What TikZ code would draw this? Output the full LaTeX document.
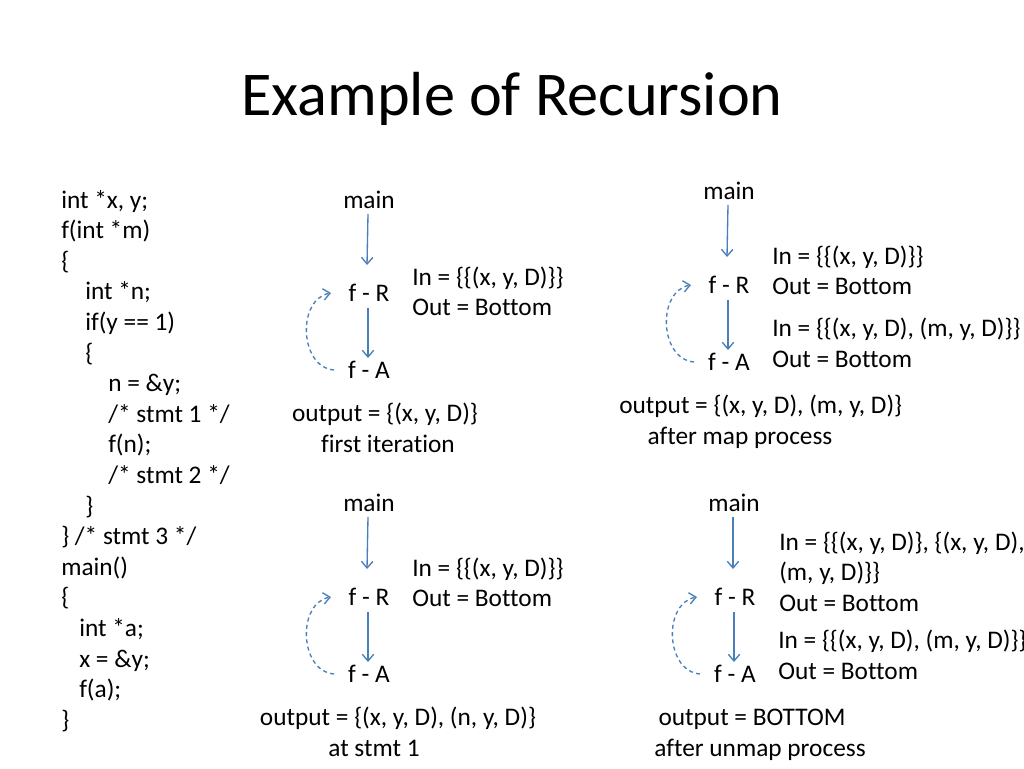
\documentclass[tikz,border=0pt]{standalone}
\usepackage{fontspec}
\setmainfont{Carlito}[Ligatures=NoCommon]
\usetikzlibrary{arrows.meta,calc}
\definecolor{flowblue}{RGB}{74,126,187}
\tikzset{
  txt/.style={anchor=base west,inner sep=0pt,font=\fontsize{19}{23}\selectfont},
  ctxt/.style={anchor=base,inner sep=0pt,font=\fontsize{19}{23}\selectfont},
  flow/.style={draw=flowblue,line width=1pt,-{Straight Barb[length=5pt,width=8.5pt]}},
  back/.style={draw=flowblue,line width=1pt,dash pattern=on 3pt off 2.5pt,-{Straight Barb[length=5pt,width=8.5pt]}}
}
\begin{document}
\begin{tikzpicture}[x=0.75pt,y=-0.75pt]
\path[use as bounding box] (0,0) rectangle (1024,768);
\clip (0,0) rectangle (1024,768);
\fill[white] (0,0) rectangle (1024,768);
% title
\node[anchor=base,inner sep=0pt,font=\fontsize{46.7}{55}\selectfont] (title) at (512,115) {Example of Recursion};
% code
\node[txt] (c1) at (61,208.0) {int *x, y;};
\node[txt] (c2) at (61,238.6) {f(int *m)};
\node[txt] (c3) at (61,269.2) {\{};
\node[txt] (c4) at (85,299.8) {int *n;};
\node[txt] (c5) at (85,330.4) {if(y == 1)};
\node[txt] (c6) at (85,361.0) {\{};
\node[txt] (c7) at (108,391.6) {n = \&y;};
\node[txt] (c8) at (108,422.2) {/* stmt 1 */};
\node[txt] (c9) at (108,452.8) {f(n);};
\node[txt] (c10) at (108,483.4) {/* stmt 2 */};
\node[txt] (c11) at (85,514.0) {\}};
\node[txt] (c12) at (61,544.6) {\} /* stmt 3 */};
\node[txt] (c13) at (61,575.2) {main()};
\node[txt] (c14) at (61,605.8) {\{};
\node[txt] (c15) at (79,636.4) {int *a;};
\node[txt] (c16) at (79,667.0) {x = \&y;};
\node[txt] (c17) at (79,697.6) {f(a);};
\node[txt] (c18) at (61,728.2) {\}};
% panel 1
\node[ctxt] (m1) at (369,208) {main};
\node[ctxt] (r1) at (369,301) {f - R};
\node[ctxt] (a1) at (369,378) {f - A};
\node[txt] (in1) at (412,285) {In = \{\{(x, y, D)\}\}};
\node[txt] (out1) at (412,315) {Out = Bottom};
\node[ctxt] (o1) at (385,421) {output = \{(x, y, D)\}};
\node[ctxt] (l1) at (388,452) {first iteration};
% panel 2
\node[ctxt] (m2) at (729,199) {main};
\node[ctxt] (r2) at (729,293) {f - R};
\node[ctxt] (a2) at (729,370) {f - A};
\node[txt] (in2a) at (772,264) {In = \{\{(x, y, D)\}\}};
\node[txt] (out2a) at (772,294) {Out = Bottom};
\node[txt] (in2b) at (772,336) {In = \{\{(x, y, D), (m, y, D)\}\}};
\node[txt] (out2b) at (772,367) {Out = Bottom};
\node[txt] (o2) at (619,413) {output = \{(x, y, D), (m, y, D)\}};
\node[ctxt] (l2) at (740,444) {after map process};
% panel 3
\node[ctxt] (m3) at (369,511) {main};
\node[ctxt] (r3) at (369,605) {f - R};
\node[ctxt] (a3) at (369,682) {f - A};
\node[txt] (in3) at (412,576) {In = \{\{(x, y, D)\}\}};
\node[txt] (out3) at (412,606) {Out = Bottom};
\node[ctxt] (o3) at (398,725) {output = \{(x, y, D), (n, y, D)\}};
\node[ctxt] (l3) at (374,756) {at stmt 1};
% panel 4
\node[ctxt] (m4) at (734,511) {main};
\node[ctxt] (r4) at (735,605) {f - R};
\node[ctxt] (a4) at (735,682) {f - A};
\node[txt] (in4a) at (779,550) {In = \{\{(x, y, D)\}, \{(x, y, D),};
\node[txt] (in4b) at (779,580) {(m, y, D)\}\}};
\node[txt] (out4a) at (779,611) {Out = Bottom};
\node[txt] (in4c) at (778,648) {In = \{\{(x, y, D), (m, y, D)\}\}};
\node[txt] (out4b) at (778,679) {Out = Bottom};
\node[ctxt] (o4) at (752,725) {output = BOTTOM};
\node[ctxt] (l4) at (760,756) {after unmap process};
% connectors
\foreach \p in {1,2,3,4} {
  \draw[flow] ($(m\p.base)+(-1,6)$) -- ($(r\p.base)+(-2,-36)$);
  \draw[flow] ($(r\p.base)+(-1,7)$) -- ($(a\p.base)+(-1,-20)$);
  \draw[back] ($(a\p.base)+(-35,-8)$) .. controls +(-35,-3) and +(-34,6) .. ($(r\p.base)+(-38,-8)$);
}
\end{tikzpicture}
\end{document}
